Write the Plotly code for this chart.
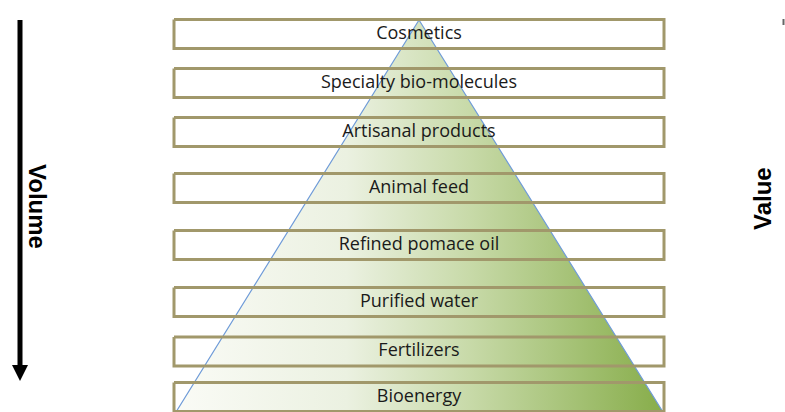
import plotly.graph_objects as go

# Data: products ordered from top (low volume / high value) to bottom
products = ["Cosmetics", "Specialty bio-molecules", "Artisanal products", "Animal feed",
            "Refined pomace oil", "Purified water", "Fertilizers", "Bioenergy"]
left_label = "Volume"
right_label = "Value"

# Layout constants (pixel-like coordinate system)
W, H = 785, 412
row_centers = [34, 83, 132, 188, 245, 302, 351.5, 397]
box_left, box_right, box_h = 174, 664, 29
apex = (419, 20)
base_l, base_r = (176, 412), (663, 412)

fig = go.Figure()

# Pyramid with gradient fill
fig.add_trace(go.Scatter(
    x=[apex[0], base_r[0], base_l[0], apex[0]],
    y=[apex[1], base_r[1], base_l[1], apex[1]],
    mode="lines", fill="toself",
    fillgradient=dict(type="horizontal",
                      colorscale=[[0, "#fafbf6"], [0.35, "#ebf1e1"], [0.6, "#c8daa9"], [1, "#87ad4a"]]),
    line=dict(color="#6f9bd8", width=1.2),
    hoverinfo="skip", showlegend=False))

# Boxes (outlines, transparent inside)
bx, by = [], []
for c in row_centers:
    t, b = c - box_h / 2, c + box_h / 2
    bx += [box_left, box_right, box_right, box_left, box_left, None]
    by += [t, t, b, b, t, None]
fig.add_trace(go.Scatter(
    x=bx, y=by, mode="lines",
    line=dict(color="#a1986b", width=3),
    hoverinfo="skip", showlegend=False))

# Labels
fig.add_trace(go.Scatter(
    x=[(box_left + box_right) / 2] * len(products),
    y=row_centers,
    text=products, mode="text",
    textfont=dict(family="Open Sans", size=18, color="#1a1a1a"),
    hoverinfo="skip", showlegend=False))

# Left arrow
fig.add_shape(type="line", x0=20, x1=20, y0=20, y1=366, line=dict(color="black", width=5))
fig.add_shape(type="path", path="M 12 365 L 28 365 L 20 381 Z", fillcolor="black", line=dict(width=0))
# tiny mark top right
fig.add_shape(type="line", x0=783.5, x1=783.5, y0=19, y1=25, line=dict(color="#666", width=2))

fig.add_annotation(x=38, y=206, text="<b>%s</b>" % left_label, showarrow=False, textangle=90,
                   font=dict(family="Liberation Sans", size=24, color="black"))
fig.add_annotation(x=762, y=199, text="<b>%s</b>" % right_label, showarrow=False, textangle=-90,
                   font=dict(family="Liberation Sans", size=24, color="black"))

fig.update_layout(
    width=W, height=H, margin=dict(l=0, r=0, t=0, b=0),
    plot_bgcolor="white", paper_bgcolor="white",
    xaxis=dict(range=[0, W], visible=False, fixedrange=True),
    yaxis=dict(range=[H, 0], visible=False, fixedrange=True))

fig.write_html("out.html", config={"displayModeBar": False},
               post_script="document.body.style.margin='0px';document.body.style.overflow='hidden';")
